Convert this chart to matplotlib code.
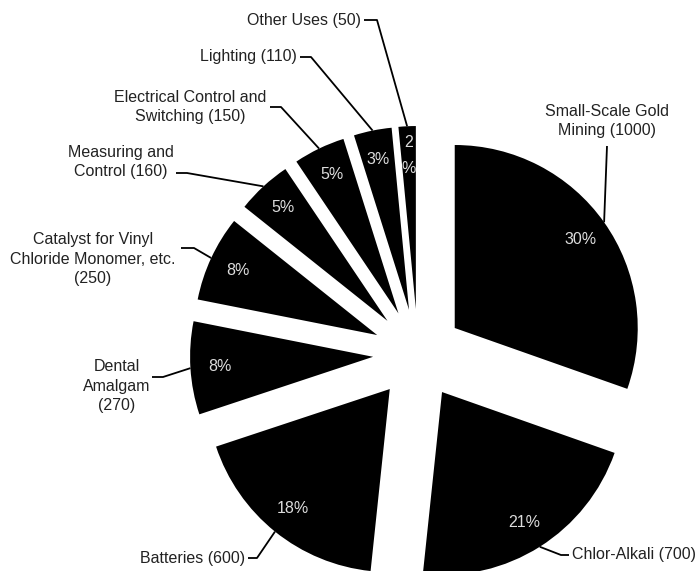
import matplotlib.pyplot as plt
import numpy as np

# mercury use by sector (tonnes)
labels = ['Small-Scale Gold\nMining (1000)', 'Chlor-Alkali (700)', 'Batteries (600)',
          'Dental\nAmalgam\n(270)', 'Catalyst for Vinyl\nChloride Monomer, etc.\n(250)',
          'Measuring and\nControl (160)', 'Electrical Control and\nSwitching (150)',
          'Lighting (110)', 'Other Uses (50)']
values = [1000, 700, 600, 270, 250, 160, 150, 110, 50]

W, H = 697, 571

# label layout in pixels from top-left: text x, text y, ha, line start, elbow
layout = [
    (607, 121, 'center', (607, 146), (607, 146)),
    (572, 555, 'left', (569, 555), (561, 555)),
    (245, 558, 'right', (248, 558), (257, 558)),
    (117, 386, 'center', (152, 377), (163, 377)),
    (93, 259, 'center', (181, 248), (194, 248)),
    (121, 162, 'center', (176, 173), (187, 173)),
    (190, 107, 'center', (270, 107), (281, 107)),
    (297, 57, 'right', (300, 57), (311, 57)),
    (361, 20, 'right', (364, 20), (377, 20)),
]

def fy(py):
    return H - py

def fmt(p):
    s = '%.0f%%' % p
    if p < 2:
        s = s[:-1] + '\n%'
    return s

plt.rcParams['font.family'] = ['Liberation Sans', 'DejaVu Sans']

fig = plt.figure(figsize=(W / 100, H / 100), dpi=100)
ax = fig.add_axes([0, 0, 1, 1])
wedges, texts, pcts = ax.pie(values, explode=[45] * len(values), startangle=90,
                             counterclock=False, colors=['black'] * len(values),
                             radius=183, center=(418, fy(354)), autopct=fmt,
                             pctdistance=0.84,
                             textprops=dict(color='#dcdcdc', fontsize=11.5))
for t in pcts:
    if '\n' in t.get_text():
        t.set_linespacing(1.9)

for w, lab, (tx, ty, ha, st, el) in zip(wedges, labels, layout):
    mid = np.deg2rad((w.theta1 + w.theta2) / 2)
    px = w.center[0] + w.r * np.cos(mid)
    py = w.center[1] + w.r * np.sin(mid)
    ax.text(tx, fy(ty), lab, ha=ha, va='center', fontsize=11.5, color='#222222',
            multialignment='center', linespacing=1.4)
    ax.plot([st[0], el[0], px], [fy(st[1]), fy(el[1]), py], color='black', lw=1.3,
            solid_capstyle='butt')

ax.set_xlim(0, W)
ax.set_ylim(0, H)
ax.set_aspect('equal')
ax.axis('off')
fig.savefig('out.png', dpi=100)
